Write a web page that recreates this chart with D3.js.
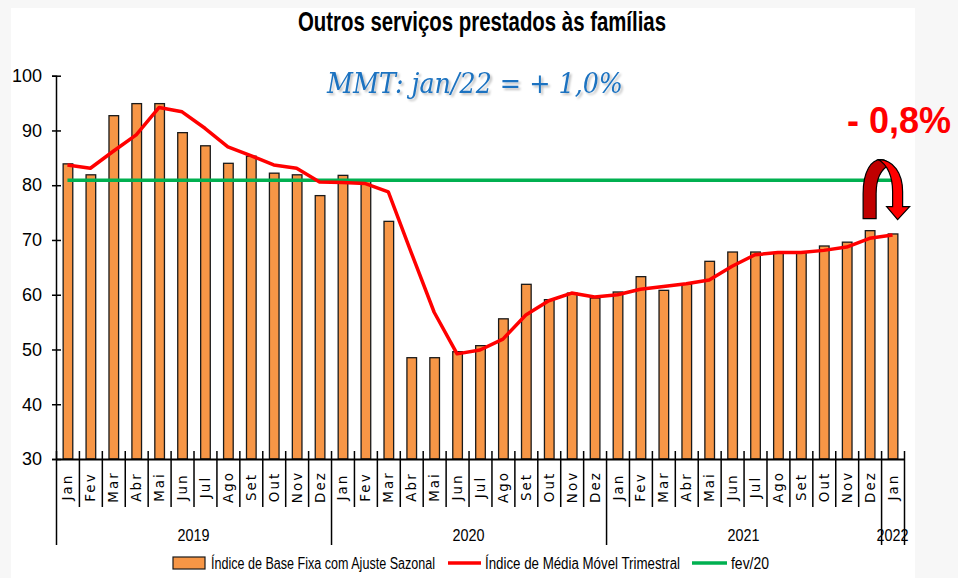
<!DOCTYPE html>
<html>
<head>
<meta charset="utf-8">
<script src="https://cdn.jsdelivr.net/npm/d3@7"></script>
<style>
  body { margin: 0; background: #f7f7f7; }
  svg { display: block; }
</style>
</head>
<body>
<div id="chart"></div>
<script>
// month labels, 2019-01 .. 2022-01
var months = ["Jan","Fev","Mar","Abr","Mai","Jun","Jul","Ago","Set","Out","Nov","Dez",
              "Jan","Fev","Mar","Abr","Mai","Jun","Jul","Ago","Set","Out","Nov","Dez",
              "Jan","Fev","Mar","Abr","Mai","Jun","Jul","Ago","Set","Out","Nov","Dez",
              "Jan"];
var years = ["2019", "2020", "2021", "2022"];
var monthsPerYear = [12, 12, 12, 1];

// Índice de Base Fixa com Ajuste Sazonal (bars)
var baseIndex = [83.9, 81.9, 92.7, 94.9, 94.9, 89.6, 87.2, 84.0, 85.3, 82.2, 81.9, 78.1,
                 81.8, 80.9, 73.4, 48.5, 48.5, 49.6, 50.7, 55.6, 61.9, 59.1, 60.3, 59.4,
                 60.5, 63.3, 60.8, 61.9, 66.1, 67.8, 67.8, 67.7, 67.7, 68.9, 69.6, 71.7,
                 71.1];
// Índice de Média Móvel Trimestral (red line)
var movingAvg = [83.7, 83.1, 86.2, 89.2, 94.2, 93.4, 90.4, 87.0, 85.4, 83.7, 83.1, 80.6,
                 80.5, 80.3, 78.8, 67.7, 56.8, 49.2, 49.9, 51.9, 56.3, 58.9, 60.3, 59.6,
                 60.0, 61.0, 61.5, 62.0, 62.7, 65.2, 67.3, 67.7, 67.7, 68.1, 68.7, 70.3,
                 70.9];
// fev/20 level (green line)
var fev20 = 80.9;
var yTicks = [30, 40, 50, 60, 70, 80, 90, 100];

var svgWidth = 958, svgHeight = 578;
var margin = { top: 75.7, right: 54, bottom: 119, left: 56 };
var width = svgWidth - margin.left - margin.right;
var height = svgHeight - margin.top - margin.bottom;

var narrow = "'Liberation Sans Narrow', 'Arial Narrow', 'Liberation Sans', sans-serif";

var svg = d3.select("#chart").append("svg")
  .attr("width", svgWidth)
  .attr("height", svgHeight);

var defs = svg.append("defs");
defs.append("filter").attr("id", "shadow")
  .attr("x", "-5%").attr("y", "-20%").attr("width", "110%").attr("height", "150%")
  .append("feDropShadow")
  .attr("dx", 2).attr("dy", 2).attr("stdDeviation", 1.2)
  .attr("flood-color", "#000").attr("flood-opacity", 0.25);

// white sheet
svg.append("rect")
  .attr("x", 11).attr("y", 8)
  .attr("width", 904).attr("height", 570)
  .attr("fill", "#ffffff");

var chartGroup = svg.append("g")
  .attr("transform", `translate(${margin.left}, ${margin.top})`);

var idx = d3.range(months.length);
var xScale = d3.scaleBand().domain(idx).range([0, width]);
var xEdge = d3.scaleLinear().domain([0, months.length]).range([0, width]);
var yScale = d3.scaleLinear().domain([30, 100]).range([height, 0]);
var bw = xScale.bandwidth();
var barW = bw * 0.42;

// bars
chartGroup.selectAll("rect.bar")
  .data(baseIndex)
  .enter()
  .append("rect")
  .attr("class", "bar")
  .attr("x", (d, i) => xScale(i) + bw / 2 - barW / 2 + 0.5)
  .attr("y", d => yScale(d))
  .attr("width", barW)
  .attr("height", d => height - yScale(d))
  .attr("fill", "#f79646")
  .attr("stroke", "#1a1a1a")
  .attr("stroke-width", 1.3);

// fev/20 line
var flat = idx.map(() => fev20);
var lineGen = d3.line()
  .x((d, i) => xScale(i) + bw / 2)
  .y(d => yScale(d));

chartGroup.append("path")
  .datum(flat)
  .attr("d", lineGen)
  .attr("fill", "none")
  .attr("stroke", "#00b050")
  .attr("stroke-width", 3.5);

chartGroup.append("path")
  .datum(movingAvg)
  .attr("d", lineGen)
  .attr("fill", "none")
  .attr("stroke", "#ff0000")
  .attr("stroke-width", 3.5)
  .attr("stroke-linejoin", "round");

// y axis
var yAxis = d3.axisLeft(yScale).tickValues(yTicks).tickSize(4).tickPadding(10);
var yG = chartGroup.append("g").call(yAxis);
yG.select(".domain").attr("stroke", "#000").attr("stroke-width", 1.5);
yG.selectAll(".tick line").attr("x1", 5).attr("stroke-width", 1.5);
yG.selectAll(".tick text")
  .attr("font-family", narrow)
  .attr("font-size", 18)
  .attr("fill", "#000");

// x axis (category boundaries)
var yearEdges = [0];
monthsPerYear.forEach(function(n, k) { yearEdges.push(yearEdges[k] + n); });

var xAxis = d3.axisBottom(xEdge)
  .tickValues(d3.range(0, months.length + 1))
  .tickFormat("")
  .tickSizeOuter(0)
  .tickSizeInner(48);
var xG = chartGroup.append("g")
  .attr("transform", `translate(0, ${height})`)
  .call(xAxis);
xG.select(".domain").attr("stroke", "#000").attr("stroke-width", 1.8);
xG.selectAll(".tick line")
  .attr("y1", -8)
  .attr("y2", d => yearEdges.indexOf(d) >= 0 ? 86 : 48)
  .attr("stroke-width", 1.5);

// month labels
chartGroup.selectAll("text.month")
  .data(months)
  .enter()
  .append("text")
  .attr("class", "month")
  .attr("transform", (d, i) => `translate(${xScale(i) + bw / 2 + 5}, ${height + 28}) rotate(-90)`)
  .attr("text-anchor", "middle")
  .attr("font-family", "'DejaVu Sans', Verdana, sans-serif")
  .attr("font-size", 13.5)
  .attr("letter-spacing", 2)
  .text(d => d);

// year labels
chartGroup.selectAll("text.year")
  .data(years)
  .enter()
  .append("text")
  .attr("class", "year")
  .attr("x", (d, k) => (xEdge(yearEdges[k]) + xEdge(yearEdges[k + 1])) / 2)
  .attr("y", height + 82)
  .attr("text-anchor", "middle")
  .attr("font-family", narrow)
  .attr("font-size", 17)
  .attr("textLength", 32)
  .attr("lengthAdjust", "spacingAndGlyphs")
  .text(d => d);

// title
svg.append("text")
  .attr("x", 482).attr("y", 31)
  .attr("text-anchor", "middle")
  .attr("font-family", narrow)
  .attr("font-weight", "bold")
  .attr("font-size", 27)
  .attr("textLength", 368)
  .attr("lengthAdjust", "spacingAndGlyphs")
  .text("Outros serviços prestados às famílias");

// MMT annotation with soft shadow
svg.append("text")
  .attr("x", 327).attr("y", 93)
  .attr("font-family", "'DejaVu Serif', 'Liberation Serif', serif")
  .attr("font-style", "italic")
  .attr("font-size", 28)
  .attr("textLength", 296)
  .attr("lengthAdjust", "spacingAndGlyphs")
  .attr("fill", "#1b72c0")
  .attr("filter", "url(#shadow)")
  .text("MMT: jan/22 = + 1,0%");

// -0,8% annotation
svg.append("text")
  .attr("x", 847).attr("y", 133)
  .attr("font-family", "'Liberation Sans', Arial, sans-serif")
  .attr("font-weight", "bold")
  .attr("font-size", 36)
  .attr("fill", "#ff0000")
  .text("- 0,8%");

// curved arrow from Dez/21 to Jan/22
var ax = margin.left + xScale(35) + bw / 2;
var ay = margin.top + yScale(71.7) - 12;
var arrow = svg.append("g").attr("transform", `translate(${ax}, ${ay})`);
arrow.append("path")
  .attr("d", "M -6.5,0 L -6.5,-25 C -6.5,-48 2,-59 11,-59 C 15,-59 18,-57 20,-54 C 12,-50 6.5,-40 6.5,-25 L 6.5,0 Z")
  .attr("fill", "#c00000")
  .attr("stroke", "#000")
  .attr("stroke-width", 1.2);
arrow.append("path")
  .attr("d", "M 9,-59 C 24,-59 33,-45 33,-27 L 33,-12 L 40,-12 L 28,1 L 17,-12 L 23,-12 L 23,-27 C 23,-42 18,-54 9,-59 Z")
  .attr("fill", "#ff0000")
  .attr("stroke", "#000")
  .attr("stroke-width", 1.2);

// legend
var legend = svg.append("g").attr("font-family", narrow).attr("font-size", 16);
legend.append("rect")
  .attr("x", 173).attr("y", 557).attr("width", 32).attr("height", 12)
  .attr("fill", "#f79646").attr("stroke", "#1a1a1a").attr("stroke-width", 1.2);
legend.append("text")
  .attr("x", 211).attr("y", 569)
  .attr("textLength", 224).attr("lengthAdjust", "spacingAndGlyphs")
  .text("Índice de Base Fixa com Ajuste Sazonal");
legend.append("line")
  .attr("x1", 448).attr("x2", 481).attr("y1", 563).attr("y2", 563)
  .attr("stroke", "#ff0000").attr("stroke-width", 3.5);
legend.append("text")
  .attr("x", 485).attr("y", 569)
  .attr("textLength", 195).attr("lengthAdjust", "spacingAndGlyphs")
  .text("Índice de Média Móvel Trimestral");
legend.append("line")
  .attr("x1", 692).attr("x2", 727).attr("y1", 563).attr("y2", 563)
  .attr("stroke", "#00b050").attr("stroke-width", 3.5);
legend.append("text")
  .attr("x", 731).attr("y", 569)
  .attr("textLength", 38).attr("lengthAdjust", "spacingAndGlyphs")
  .text("fev/20");
</script>
</body>
</html>
